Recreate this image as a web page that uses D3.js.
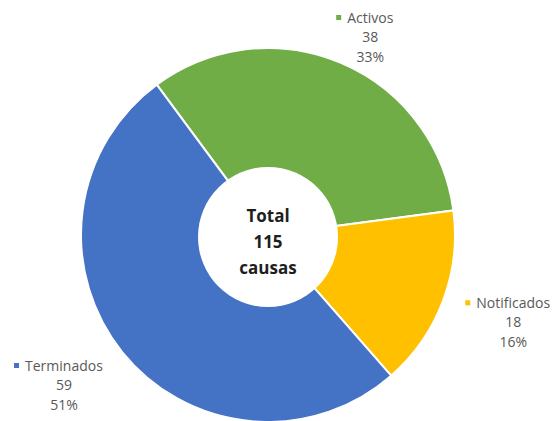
<!DOCTYPE html>
<html>
<head>
<meta charset="utf-8">
<script src="https://cdn.jsdelivr.net/npm/d3@7"></script>
<style>
  body { margin: 0; background: #ffffff; }
  svg { display: block; }
</style>
</head>
<body>
<svg id="chart"></svg>
<script>
let categories = ['Activos', 'Notificados', 'Terminados'];
let values     = [38, 18, 59];
let percents   = ['33%', '16%', '51%'];
let colors     = ['#70AD47', '#FFC000', '#4472C4'];
let centerText = ['Total', '115', 'causas'];

function drawChart () {
    let w = 557;
    let h = 421;
    let cx = 268;
    let cy = 235;
    let outer = 187;
    let inner = 70;
    let labelR = 262;
    let startDeg = -36.5;

    let svg = d3.select('#chart')
        .attr('width', w)
        .attr('height', h);

    let data = categories.map((c, i) => {
        return { _id: i, name: c, value: values[i], pct: percents[i], color: colors[i] };
    });

    let start = startDeg * Math.PI / 180;
    let pie = d3.pie()
        .sort(null)
        .value((d) => { return d.value; })
        .startAngle(start)
        .endAngle(start + 2 * Math.PI);

    let arc = d3.arc()
        .innerRadius(0)
        .outerRadius(outer);

    let g = svg.append('g')
        .attr('transform', 'translate(' + cx + ',' + cy + ')');

    let arcs = pie(data);

    g.selectAll('path.slice')
        .data(arcs, (d) => { return d.data._id; })
        .enter()
        .append('path')
        .attr('class', 'slice')
        .attr('d', arc)
        .attr('fill', (d) => { return d.data.color; })
        .attr('stroke', '#ffffff')
        .attr('stroke-width', 2);

    // white hole in the middle
    g.append('circle')
        .attr('cy', 2)
        .attr('r', inner)
        .attr('fill', '#ffffff');

    g.selectAll('text.center')
        .data(centerText)
        .enter()
        .append('text')
        .attr('class', 'center')
        .attr('x', 0)
        .attr('y', (d, i) => { return -13 + i * 26; })
        .attr('text-anchor', 'middle')
        .attr('font-family', '"Open Sans", sans-serif')
        .attr('font-weight', 'bold')
        .attr('font-size', 17)
        .attr('fill', '#1e1e1e')
        .text((d) => { return d; });

    // outside data labels, kept inside the picture
    let labels = g.selectAll('g.label')
        .data(arcs, (d) => { return d.data._id; })
        .enter()
        .append('g')
        .attr('class', 'label')
        .attr('transform', (d) => {
            let a = (d.startAngle + d.endAngle) / 2;
            let x = Math.sin(a) * labelR;
            let y = -Math.cos(a) * labelR;
            y = Math.max(y, 42 - cy);
            y = Math.min(y, 390 - cy);
            return 'translate(' + x + ',' + y + ')';
        });

    let font = '"Open Sans", sans-serif';
    let fs = 14;

    labels.append('text')
        .attr('class', 'name')
        .attr('y', -19)
        .attr('text-anchor', 'middle')
        .attr('font-family', font)
        .attr('font-size', fs)
        .attr('fill', '#595959')
        .text((d) => { return d.data.name; });

    labels.each(function (d) {
        let t = d3.select(this).select('text.name').node();
        let bw = t.getComputedTextLength();
        d3.select(this).append('rect')
            .attr('x', -bw / 2 - 11)
            .attr('y', -27)
            .attr('width', 5)
            .attr('height', 5)
            .attr('fill', d.data.color);
    });

    labels.append('text')
        .attr('y', 0)
        .attr('text-anchor', 'middle')
        .attr('font-family', font)
        .attr('font-size', fs)
        .attr('fill', '#595959')
        .text((d) => { return d.data.value; });

    labels.append('text')
        .attr('y', 20)
        .attr('text-anchor', 'middle')
        .attr('font-family', font)
        .attr('font-size', fs)
        .attr('fill', '#595959')
        .text((d) => { return d.data.pct; });
}

drawChart();
</script>
</body>
</html>
